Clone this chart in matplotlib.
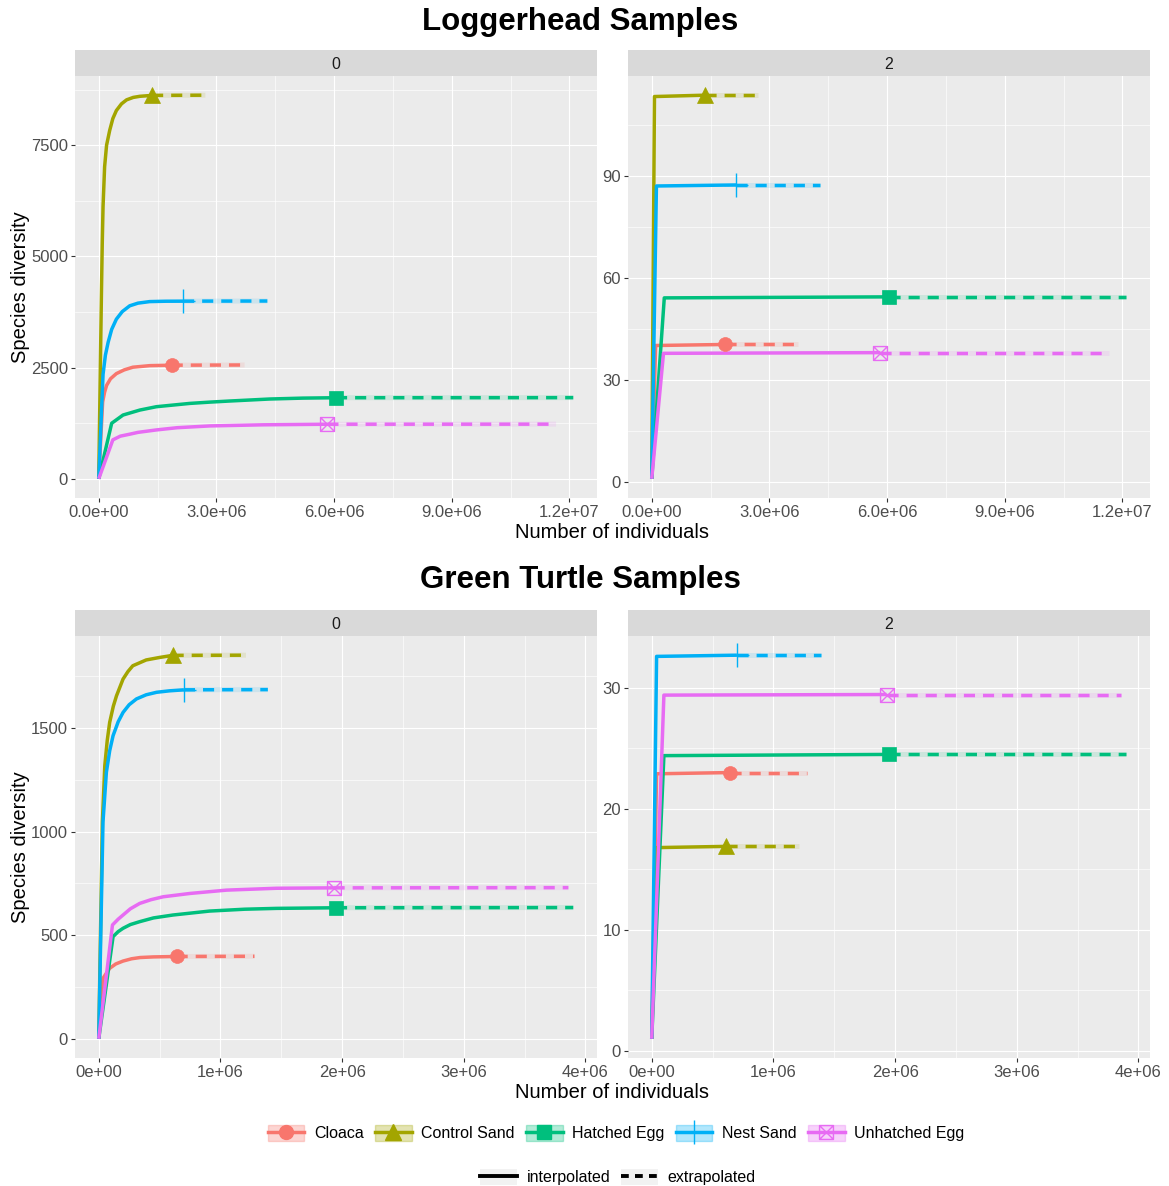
import matplotlib.pyplot as plt
from matplotlib.lines import Line2D
from matplotlib.patches import Patch
from matplotlib.path import Path
from matplotlib.ticker import FixedLocator

plt.rcParams['font.family'] = ['Liberation Sans', 'DejaVu Sans']

# ---- data (x in millions of individuals) ----
samples = ["Cloaca", "Control Sand", "Hatched Egg", "Nest Sand", "Unhatched Egg"]
colors = ["#F8766D", "#A3A500", "#00BF7D", "#00B0F6", "#E76BF3"]

# Loggerhead, q = 0
lh0_x = [
    [0, 0.1, 0.15, 0.2, 0.3, 0.45, 0.65, 0.87, 1.3, 1.86],
    [0, 0.068, 0.09, 0.11, 0.15, 0.2, 0.28, 0.36, 0.45, 0.58, 0.71, 0.88, 1.05, 1.36],
    [0, 0.33, 0.62, 1.05, 1.47, 2.32, 2.83, 3.34, 4.36, 5.2, 6.05],
    [0, 0.11, 0.17, 0.24, 0.33, 0.45, 0.6, 0.79, 1.0, 1.3, 1.7, 2.15],
    [0, 0.36, 0.55, 0.79, 1.0, 1.47, 2.0, 2.83, 4.19, 5.83],
]
lh0_y = [
    [1, 1730, 1950, 2100, 2250, 2366, 2450, 2510, 2545, 2555],
    [1, 4110, 5300, 6120, 7015, 7500, 7835, 8100, 8280, 8430, 8520, 8575, 8600, 8620],
    [1, 1250, 1435, 1547, 1622, 1696, 1725, 1750, 1795, 1815, 1824],
    [1, 2350, 2780, 3070, 3360, 3590, 3760, 3890, 3950, 3985, 3993, 3995],
    [1, 877, 960, 1004, 1045, 1100, 1150, 1190, 1215, 1228],
]
lh0_ext_x = [3.72, 2.72, 12.1, 4.3, 11.66]
lh0_ext_y = [2560, 8625, 1826, 3998, 1230]

# Loggerhead, q = 2
lh2_x = [
    [0, 0.1, 1.86],
    [0, 0.07, 1.36],
    [0, 0.32, 6.05],
    [0, 0.12, 2.15],
    [0, 0.30, 5.83],
]
lh2_y = [
    [1, 40.2, 40.5],
    [1, 113.4, 113.8],
    [1, 54.2, 54.5],
    [1, 87.1, 87.4],
    [1, 37.9, 38.1],
]
lh2_ext_x = [3.72, 2.72, 12.1, 4.3, 11.66]
lh2_ext_y = [40.5, 113.8, 54.5, 87.4, 38.1]

# Green turtle, q = 0
gt0_x = [
    [0, 0.035, 0.09, 0.14, 0.2, 0.27, 0.34, 0.45, 0.64],
    [0, 0.03, 0.05, 0.07, 0.09, 0.12, 0.146, 0.2, 0.24, 0.28, 0.39, 0.5, 0.607],
    [0, 0.118, 0.16, 0.2, 0.26, 0.337, 0.45, 0.61, 0.91, 1.2, 1.46, 1.95],
    [0, 0.035, 0.063, 0.09, 0.118, 0.16, 0.2, 0.25, 0.31, 0.39, 0.475, 0.58, 0.70],
    [0, 0.113, 0.16, 0.2, 0.26, 0.337, 0.43, 0.53, 0.75, 1.05, 1.46, 1.93],
]
gt0_y = [
    [1, 293, 341, 362, 376, 387, 393, 396, 398],
    [1, 1047, 1319, 1440, 1527, 1605, 1655, 1736, 1772, 1800, 1828, 1840, 1850],
    [1, 494, 518, 534, 552, 566, 584, 598, 617, 626, 630, 633],
    [1, 1047, 1287, 1390, 1463, 1530, 1575, 1612, 1640, 1660, 1672, 1679, 1684],
    [1, 550, 578, 598, 628, 654, 672, 686, 702, 718, 727, 729],
]
gt0_ext_x = [1.28, 1.21, 3.9, 1.39, 3.86]
gt0_ext_y = [399, 1851, 634, 1685, 730]

# Green turtle, q = 2
gt2_x = [
    [0, 0.04, 0.64],
    [0, 0.04, 0.607],
    [0, 0.1, 1.95],
    [0, 0.04, 0.70],
    [0, 0.1, 1.93],
]
gt2_y = [
    [1, 22.9, 23.0],
    [1, 16.8, 16.9],
    [1, 24.4, 24.5],
    [1, 32.6, 32.7],
    [1, 29.4, 29.45],
]
gt2_ext_x = [1.28, 1.21, 3.9, 1.39, 3.86]
gt2_ext_y = [23.0, 16.9, 24.5, 32.7, 29.45]

lh_xticks = [0, 3e6, 6e6, 9e6, 1.2e7]
lh_xlabels = ["0.0e+00", "3.0e+06", "6.0e+06", "9.0e+06", "1.2e+07"]
gt_xticks = [0, 1e6, 2e6, 3e6, 4e6]
gt_xlabels = ["0e+00", "1e+06", "2e+06", "3e+06", "4e+06"]
lh0_yticks = [0, 2500, 5000, 7500]
lh2_yticks = [0, 30, 60, 90]
gt0_yticks = [0, 500, 1000, 1500]
gt2_yticks = [0, 10, 20, 30]

# ---- styling ----
W, H = 1169, 1186
fig = plt.figure(figsize=(W / 100, H / 100), dpi=100)

sqx = Path([(-1, -1), (1, -1), (1, 1), (-1, 1), (-1, -1), (-1, -1), (1, 1), (-1, 1), (1, -1)],
           [Path.MOVETO, Path.LINETO, Path.LINETO, Path.LINETO, Path.CLOSEPOLY,
            Path.MOVETO, Path.LINETO, Path.MOVETO, Path.LINETO])
markers = ['o', '^', 's', '+', sqx]
msizes = [10, 11, 9.5, 17, 10]
filled = [True, True, True, False, False]
LW = 2.5


def px_axes(x0, y0, x1, y1):
    return fig.add_axes([x0 / W, 1 - y1 / H, (x1 - x0) / W, (y1 - y0) / H])


def midpoints(t):
    step = t[1] - t[0]
    return [v + step / 2 for v in t[:-1]] + [t[-1] + step / 2]


def panel(box, strip_label, xs, ys, ext_x, ext_y, xticks, xlabels, yticks):
    x0, y0, x1, y1 = box
    ax = px_axes(x0, y0, x1, y1)
    st = px_axes(x0, y0 - 26, x1, y0)
    st.set_facecolor('#D9D9D9')
    st.set_xticks([])
    st.set_yticks([])
    for s in st.spines.values():
        s.set_visible(False)
    st.text(0.5, 0.45, strip_label, ha='center', va='center', fontsize=11.5, color='#1A1A1A',
            transform=st.transAxes)

    ax.set_facecolor('#EBEBEB')
    for s in ax.spines.values():
        s.set_visible(False)

    for i in range(len(samples)):
        c = colors[i]
        xx = [v * 1e6 for v in xs[i]]
        ax.plot(xx, ys[i], color=c, lw=LW, solid_capstyle='butt', solid_joinstyle='round', zorder=3)
        ex = [xs[i][-1] * 1e6, ext_x[i] * 1e6]
        ey = [ys[i][-1], ext_y[i]]
        ax.plot(ex, ey, color=c, lw=3.6, alpha=0.13, solid_capstyle='butt', zorder=2)
        ax.plot(ex, ey, color=c, lw=LW, ls=(0, (3.2, 2.3)), dash_capstyle='butt', zorder=3)
        ax.plot([xx[-1]], [ys[i][-1]], ls='none', marker=markers[i], ms=msizes[i],
                color=c, mfc=c if filled[i] else 'none', mew=1.0 if not filled[i] else 0.5,
                zorder=4)

    all_y = [v for row in ys for v in row] + list(ext_y)
    lo, hi = min(all_y), max(all_y)
    pad = (hi - lo) * 0.05
    ax.set_ylim(lo - pad, hi + pad)
    xmax = max(ext_x) * 1e6
    ax.set_xlim(-0.05 * xmax, xmax * 1.05)

    ax.set_xticks(xticks)
    ax.set_xticklabels(xlabels)
    ax.set_yticks(yticks)
    ax.xaxis.set_minor_locator(FixedLocator(midpoints(xticks)))
    ax.yaxis.set_minor_locator(FixedLocator(midpoints(yticks)))
    ax.set_axisbelow(True)
    ax.grid(which='major', color='white', lw=0.85)
    ax.grid(which='minor', color='white', lw=0.45)
    ax.tick_params(which='major', length=3, width=0.8, color='#333333', labelsize=12,
                   labelcolor='#4D4D4D', pad=2)
    ax.tick_params(which='minor', length=0)
    return ax


panel((75, 76, 597, 498), "0", lh0_x, lh0_y, lh0_ext_x, lh0_ext_y, lh_xticks, lh_xlabels, lh0_yticks)
panel((628, 76, 1150, 498), "2", lh2_x, lh2_y, lh2_ext_x, lh2_ext_y, lh_xticks, lh_xlabels, lh2_yticks)
panel((75, 636, 597, 1058), "0", gt0_x, gt0_y, gt0_ext_x, gt0_ext_y, gt_xticks, gt_xlabels, gt0_yticks)
panel((628, 636, 1150, 1058), "2", gt2_x, gt2_y, gt2_ext_x, gt2_ext_y, gt_xticks, gt_xlabels, gt2_yticks)

fig.text(580 / W, 1 - 22 / H, "Loggerhead Samples", ha='center', va='center', fontsize=22.5, fontweight='bold')
fig.text(580 / W, 1 - 580 / H, "Green Turtle Samples", ha='center', va='center', fontsize=22.5, fontweight='bold')
for yc in (287, 847):
    fig.text(21 / W, 1 - yc / H, "Species diversity", rotation=90, ha='center', va='center', fontsize=14.5)
for yc in (533, 1093):
    fig.text(612 / W, 1 - yc / H, "Number of individuals", ha='center', va='center', fontsize=14.5)

# legends
h1 = []
for i in range(len(samples)):
    c = colors[i]
    h1.append((Patch(facecolor=c, alpha=0.3, edgecolor=c, lw=1),
               Line2D([], [], color=c, lw=LW, marker=markers[i], ms=msizes[i],
                      mfc=c if filled[i] else 'none', mew=1.0)))
fig.legend(h1, samples, loc='center', bbox_to_anchor=(616 / W, 1 - 1133 / H), ncol=5, frameon=False,
           fontsize=11.5, handlelength=2.3, handleheight=1.2, handletextpad=0.6, columnspacing=0.7)

h2 = [(Patch(facecolor='#F2F2F2', edgecolor='none'), Line2D([], [], color='black', lw=2.8)),
      (Patch(facecolor='#F2F2F2', edgecolor='none'), Line2D([], [], color='black', lw=2.8, ls=(0, (2, 1.6))))]
fig.legend(h2, ["interpolated", "extrapolated"], loc='center', bbox_to_anchor=(618 / W, 1 - 1177 / H),
           ncol=2, frameon=False, fontsize=11.5, handlelength=2.3, handleheight=1.2, handletextpad=0.6,
           columnspacing=0.7)

fig.savefig("out.png", dpi=100)
